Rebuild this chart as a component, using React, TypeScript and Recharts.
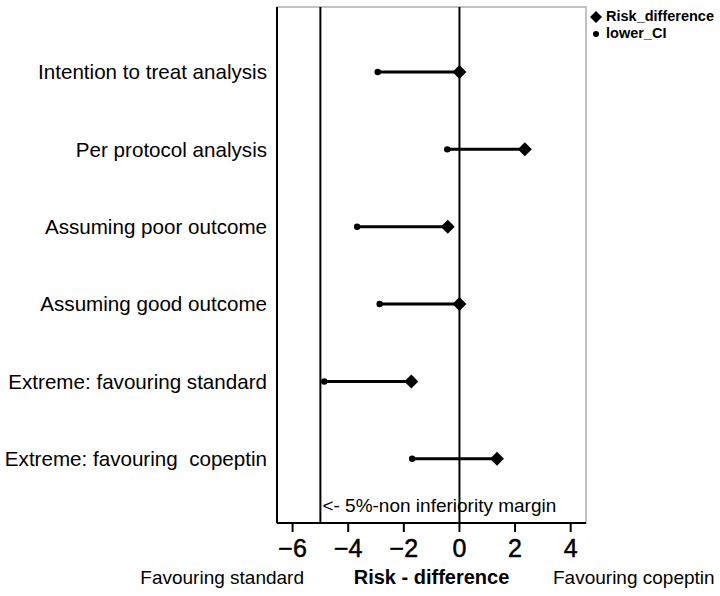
import React from 'react';
import {
  ScatterChart, Scatter, XAxis, YAxis, ReferenceLine, ReferenceArea, Legend,
} from 'recharts';

const categories = [
  'Intention to treat analysis',
  'Per protocol analysis',
  'Assuming poor outcome',
  'Assuming good outcome',
  'Extreme: favouring standard',
  'Extreme: favouring  copeptin',
];
const rowPositions = [6, 5, 4, 3, 2, 1];
const riskDifference = [0, 2.35, -0.42, 0, -1.73, 1.35];
const lowerCI = [-2.94, -0.44, -3.68, -2.87, -4.86, -1.7];
const xTicks = [-6, -4, -2, 0, 2, 4];
const marginValue = -5;

const FONT = 'Arial, "Liberation Sans", Helvetica, sans-serif';

const rdData = categories.map((name, i) => ({ name, x: riskDifference[i], y: rowPositions[i] }));
const ciData = categories.map((name, i) => ({ name, x: lowerCI[i], y: rowPositions[i] }));
const segments = categories.map((name, i) => [
  { x: lowerCI[i], y: rowPositions[i] },
  { x: riskDifference[i], y: rowPositions[i] },
]);

const Diamond = (p: any) => {
  const { cx, cy } = p;
  const r = 7;
  return <polygon points={`${cx},${cy - r} ${cx + r},${cy} ${cx},${cy + r} ${cx - r},${cy}`} fill="#000" />;
};
const Dot = (p: any) => <circle cx={p.cx} cy={p.cy} r={3.2} fill="#000" />;

const fmtX = (v: number) => (v < 0 ? '\u2212' + Math.abs(v) : String(v));

const YTick = (p: any) => {
  const label = categories[rowPositions.indexOf(p.payload.value)];
  return (
    <text x={p.x} y={p.y} dy="0.35em" textAnchor="end" xmlSpace="preserve"
      fontFamily={FONT} fontSize={20.6} fill="#000" style={{ whiteSpace: 'pre' }}>
      {label}
    </text>
  );
};

const LegendContent = () => (
  <div style={{ fontFamily: FONT, fontWeight: 'bold', fontSize: 14.5, color: '#000', lineHeight: '17px' }}>
    <div style={{ display: 'flex', alignItems: 'center' }}>
      <svg width={14} height={14}><polygon points="7,1 13,7 7,13 1,7" fill="#000" /></svg>
      <span style={{ marginLeft: 3 }}>Risk_difference</span>
    </div>
    <div style={{ display: 'flex', alignItems: 'center' }}>
      <svg width={14} height={14}><circle cx={7} cy={7} r={3} fill="#000" /></svg>
      <span style={{ marginLeft: 3 }}>lower_CI</span>
    </div>
  </div>
);

const BottomLabels = (props: any) => {
  const { x, y, width } = props.viewBox;
  return (
    <g fontFamily={FONT} fontSize={19} fill="#000">
      <text x={x + 27} y={y + 61} textAnchor="end">Favouring standard</text>
      <text x={x + width / 2} y={y + 61} textAnchor="middle" fontWeight="bold" fontSize={20}>Risk - difference</text>
      <text x={x + width - 33} y={y + 61} textAnchor="start">Favouring copeptin</text>
    </g>
  );
};

const MarginLabel = (props: any) => {
  const { x, y, height } = props.viewBox;
  return (
    <text x={x + 2} y={y + height - 11} fontFamily={FONT} fontSize={19} fill="#000">
      {'<- 5%-non inferiority margin'}
    </text>
  );
};

export default function App() {
  return (
    <div style={{ position: 'absolute', left: 0, top: 0 }}>
      <ScatterChart width={720} height={596} margin={{ top: 7, right: 134, bottom: 33, left: 0 }}>
        <ReferenceArea x1={-6.56} x2={4.55} y1={0.17} y2={6.84} fill="none" stroke="#b0b0b0" strokeWidth={1.5} ifOverflow="visible" />
        <XAxis
          type="number"
          dataKey="x"
          domain={[-6.56, 4.55]}
          allowDataOverflow
          ticks={xTicks}
          tickFormatter={fmtX}
          height={40}
          tickSize={9}
          tickMargin={7}
          tickLine={{ stroke: '#000', strokeWidth: 2 }}
          axisLine={{ stroke: '#000', strokeWidth: 2 }}
          tick={{ fill: '#000', stroke: '#000', strokeWidth: 0.5, fontSize: 25, fontFamily: FONT }}
          label={<BottomLabels />}
        />
        <YAxis
          type="number"
          dataKey="y"
          domain={[0.17, 6.84]}
          allowDataOverflow
          ticks={rowPositions}
          width={277}
          tickLine={false}
          tickMargin={4}
          axisLine={{ stroke: '#000', strokeWidth: 2 }}
          tick={<YTick />}
        />
        <ReferenceLine x={marginValue} stroke="#000" strokeWidth={2} label={<MarginLabel />} />
        <ReferenceLine x={0} stroke="#000" strokeWidth={2} />
        {segments.map((seg, i) => (
          <Scatter
            key={i}
            data={seg}
            line={{ stroke: '#000', strokeWidth: 3 }}
            shape={() => <g />}
            legendType="none"
            isAnimationActive={false}
          />
        ))}
        <Scatter name="lower_CI" data={ciData} shape={<Dot />} fill="#000" isAnimationActive={false} />
        <Scatter name="Risk_difference" data={rdData} shape={<Diamond />} fill="#000" isAnimationActive={false} />
        <Legend
          layout="vertical"
          verticalAlign="middle"
          align="center"
          content={<LegendContent />}
          wrapperStyle={{ position: 'absolute', left: 589, top: 8, width: 130 }}
        />
      </ScatterChart>
    </div>
  );
}
